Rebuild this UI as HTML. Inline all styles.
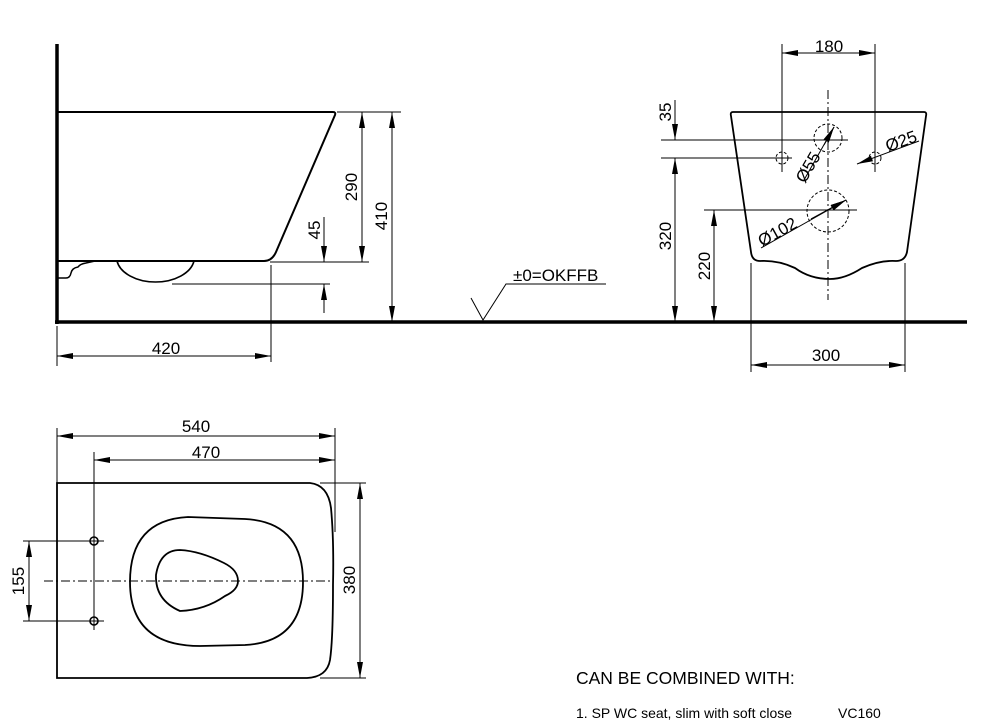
<!DOCTYPE html>
<html><head><meta charset="utf-8"><style>
html,body{margin:0;padding:0;background:#fff;}
svg{display:block;font-family:"Liberation Sans",Arial,sans-serif;}
</style></head><body>
<svg width="999" height="722" viewBox="0 0 999 722" xmlns="http://www.w3.org/2000/svg">
<defs>
<marker id="a" viewBox="0 0 16 6" refX="16" refY="3" markerWidth="16" markerHeight="6" markerUnits="userSpaceOnUse" orient="auto-start-reverse"><path d="M0,0 L16,3 L0,6 Z" fill="#000"/></marker>
</defs>
<g fill="none" stroke="#000">
<!-- side view -->
<line x1="57" y1="44" x2="57" y2="324" stroke-width="3.5"/>
<line x1="55" y1="322" x2="967" y2="322" stroke-width="3.5"/>
<path d="M57,112 L333,112 Q336,112 335,115 L276,252 Q272,261 264,261 L57,261" stroke-width="2"/>
<path d="M57,278 L66,278 Q70,278 71,273 Q72,268 78,267 Q80,264 86,263 L95,261" stroke-width="1.5"/>
<path d="M117,261 A39,25 0 0 0 194,261" stroke-width="1.6"/>
<g stroke-width="1">
<line x1="337" y1="112" x2="401" y2="112"/>
<line x1="270" y1="262" x2="369" y2="262"/>
<line x1="172" y1="284" x2="330" y2="284"/>
<line x1="271" y1="265" x2="271" y2="362"/>
<line x1="362" y1="112" x2="362" y2="262" marker-start="url(#a)" marker-end="url(#a)"/>
<line x1="392" y1="112" x2="392" y2="322" marker-start="url(#a)" marker-end="url(#a)"/>
<line x1="324" y1="217" x2="324" y2="262" marker-end="url(#a)"/>
<line x1="324" y1="313" x2="324" y2="284" marker-end="url(#a)"/>
<line x1="57" y1="326" x2="57" y2="366"/>
<line x1="57" y1="356" x2="271" y2="356" marker-start="url(#a)" marker-end="url(#a)"/>
<polyline points="471,298 483,320 506,284 606,284"/>
</g>
<!-- front view -->
<path d="M733,112 L924,112 Q927,112 926,116 L907,252 Q905,261 896,261 Q880,260 862,268 Q845,279 830,279 Q810,279 795,268 Q778,260 760,261 Q752,261 751,252 L731,116 Q730,112 733,112 Z" stroke-width="1.8"/>
<g stroke-width="1">
<line x1="828" y1="90" x2="828" y2="300" stroke-dasharray="9,3,2,3"/>
<line x1="782" y1="44" x2="782" y2="172"/>
<line x1="875" y1="44" x2="875" y2="172"/>
<line x1="782" y1="53" x2="875" y2="53" marker-start="url(#a)" marker-end="url(#a)"/>
<line x1="661" y1="140" x2="848" y2="140"/>
<line x1="661" y1="158" x2="792" y2="158"/>
<line x1="704" y1="210" x2="857" y2="210"/>
<line x1="675" y1="100" x2="675" y2="140" marker-end="url(#a)"/>
<line x1="675" y1="158" x2="675" y2="322" marker-start="url(#a)" marker-end="url(#a)"/>
<line x1="714" y1="210" x2="714" y2="322" marker-start="url(#a)" marker-end="url(#a)"/>
<line x1="751" y1="263" x2="751" y2="372"/>
<line x1="905" y1="263" x2="905" y2="372"/>
<line x1="751" y1="365" x2="905" y2="365" marker-start="url(#a)" marker-end="url(#a)"/>
<g stroke-dasharray="3,2">
<circle cx="782" cy="158" r="6"/>
<circle cx="875" cy="158" r="6"/>
<circle cx="828" cy="138" r="14"/>
<circle cx="828" cy="211" r="21"/>
</g>
<line x1="804" y1="180" x2="834" y2="127" marker-end="url(#a)"/>
<line x1="834" y1="127" x2="824" y2="145" marker-start="url(#a)"/>
<line x1="919" y1="141" x2="857" y2="164" marker-end="url(#a)"/>
<line x1="761" y1="248" x2="846" y2="200" marker-end="url(#a)"/>
<line x1="846" y1="200" x2="811" y2="219" marker-start="url(#a)"/>
</g>
<!-- top view -->
<path d="M57,483 L310,483 Q328,485 331,508 Q334,540 333,585 Q333,640 330,660 Q327,677 307,678 L57,678 Z" stroke-width="1.8"/>
<path d="M188,517 Q130,520 130,582 Q130,646 200,646 L245,645 Q303,642 303,582 Q303,522 245,519 Z" stroke-width="1.8"/>
<path d="M180,550 Q160,550 156,575 Q155,600 180,611 Q205,610 225,596 Q238,590 238,581 Q238,570 224,563 Q200,551 180,550 Z" stroke-width="1.8"/>
<g stroke-width="1">
<circle cx="94" cy="541" r="4" stroke-width="1.6"/>
<circle cx="94" cy="621" r="4" stroke-width="1.6"/>
<line x1="57" y1="428" x2="57" y2="483"/>
<line x1="335" y1="428" x2="335" y2="532"/>
<line x1="94" y1="452" x2="94" y2="630"/>
<line x1="57" y1="436" x2="335" y2="436" marker-start="url(#a)" marker-end="url(#a)"/>
<line x1="94" y1="460" x2="335" y2="460" marker-start="url(#a)" marker-end="url(#a)"/>
<line x1="23" y1="541" x2="104" y2="541"/>
<line x1="23" y1="621" x2="104" y2="621"/>
<line x1="29" y1="541" x2="29" y2="621" marker-start="url(#a)" marker-end="url(#a)"/>
<line x1="44" y1="581" x2="333" y2="581" stroke-dasharray="9,3,2,3"/>
<line x1="320" y1="483" x2="366" y2="483"/>
<line x1="320" y1="678" x2="366" y2="678"/>
<line x1="360" y1="483" x2="360" y2="678" marker-start="url(#a)" marker-end="url(#a)"/>
</g>
</g>
<g font-size="17" fill="#000">
<text x="166" y="354" text-anchor="middle">420</text>
<text transform="translate(357,187) rotate(-90)" text-anchor="middle">290</text>
<text transform="translate(387,216) rotate(-90)" text-anchor="middle">410</text>
<text transform="translate(320,230) rotate(-90)" text-anchor="middle">45</text>
<text x="513" y="281">±0=OKFFB</text>
<text x="829" y="52" text-anchor="middle">180</text>
<text transform="translate(671,112) rotate(-90)" text-anchor="middle">35</text>
<text transform="translate(671,236) rotate(-90)" text-anchor="middle">320</text>
<text transform="translate(710,266) rotate(-90)" text-anchor="middle">220</text>
<text x="826" y="361" text-anchor="middle">300</text>
<text transform="translate(805,184) rotate(-60)">Ø55</text>
<text transform="translate(888,152) rotate(-20)">Ø25</text>
<text transform="translate(762,247) rotate(-29)">Ø102</text>
<text x="196" y="432" text-anchor="middle">540</text>
<text x="206" y="458" text-anchor="middle">470</text>
<text transform="translate(24,581) rotate(-90)" text-anchor="middle">155</text>
<text transform="translate(355,580) rotate(-90)" text-anchor="middle">380</text>
<text x="576" y="684" font-size="17.5">CAN BE COMBINED WITH:</text>
<text x="576" y="718" font-size="14">1.  SP WC seat, slim with soft close</text>
<text x="838" y="718" font-size="14">VC160</text>
</g>
</svg>
</body></html>
